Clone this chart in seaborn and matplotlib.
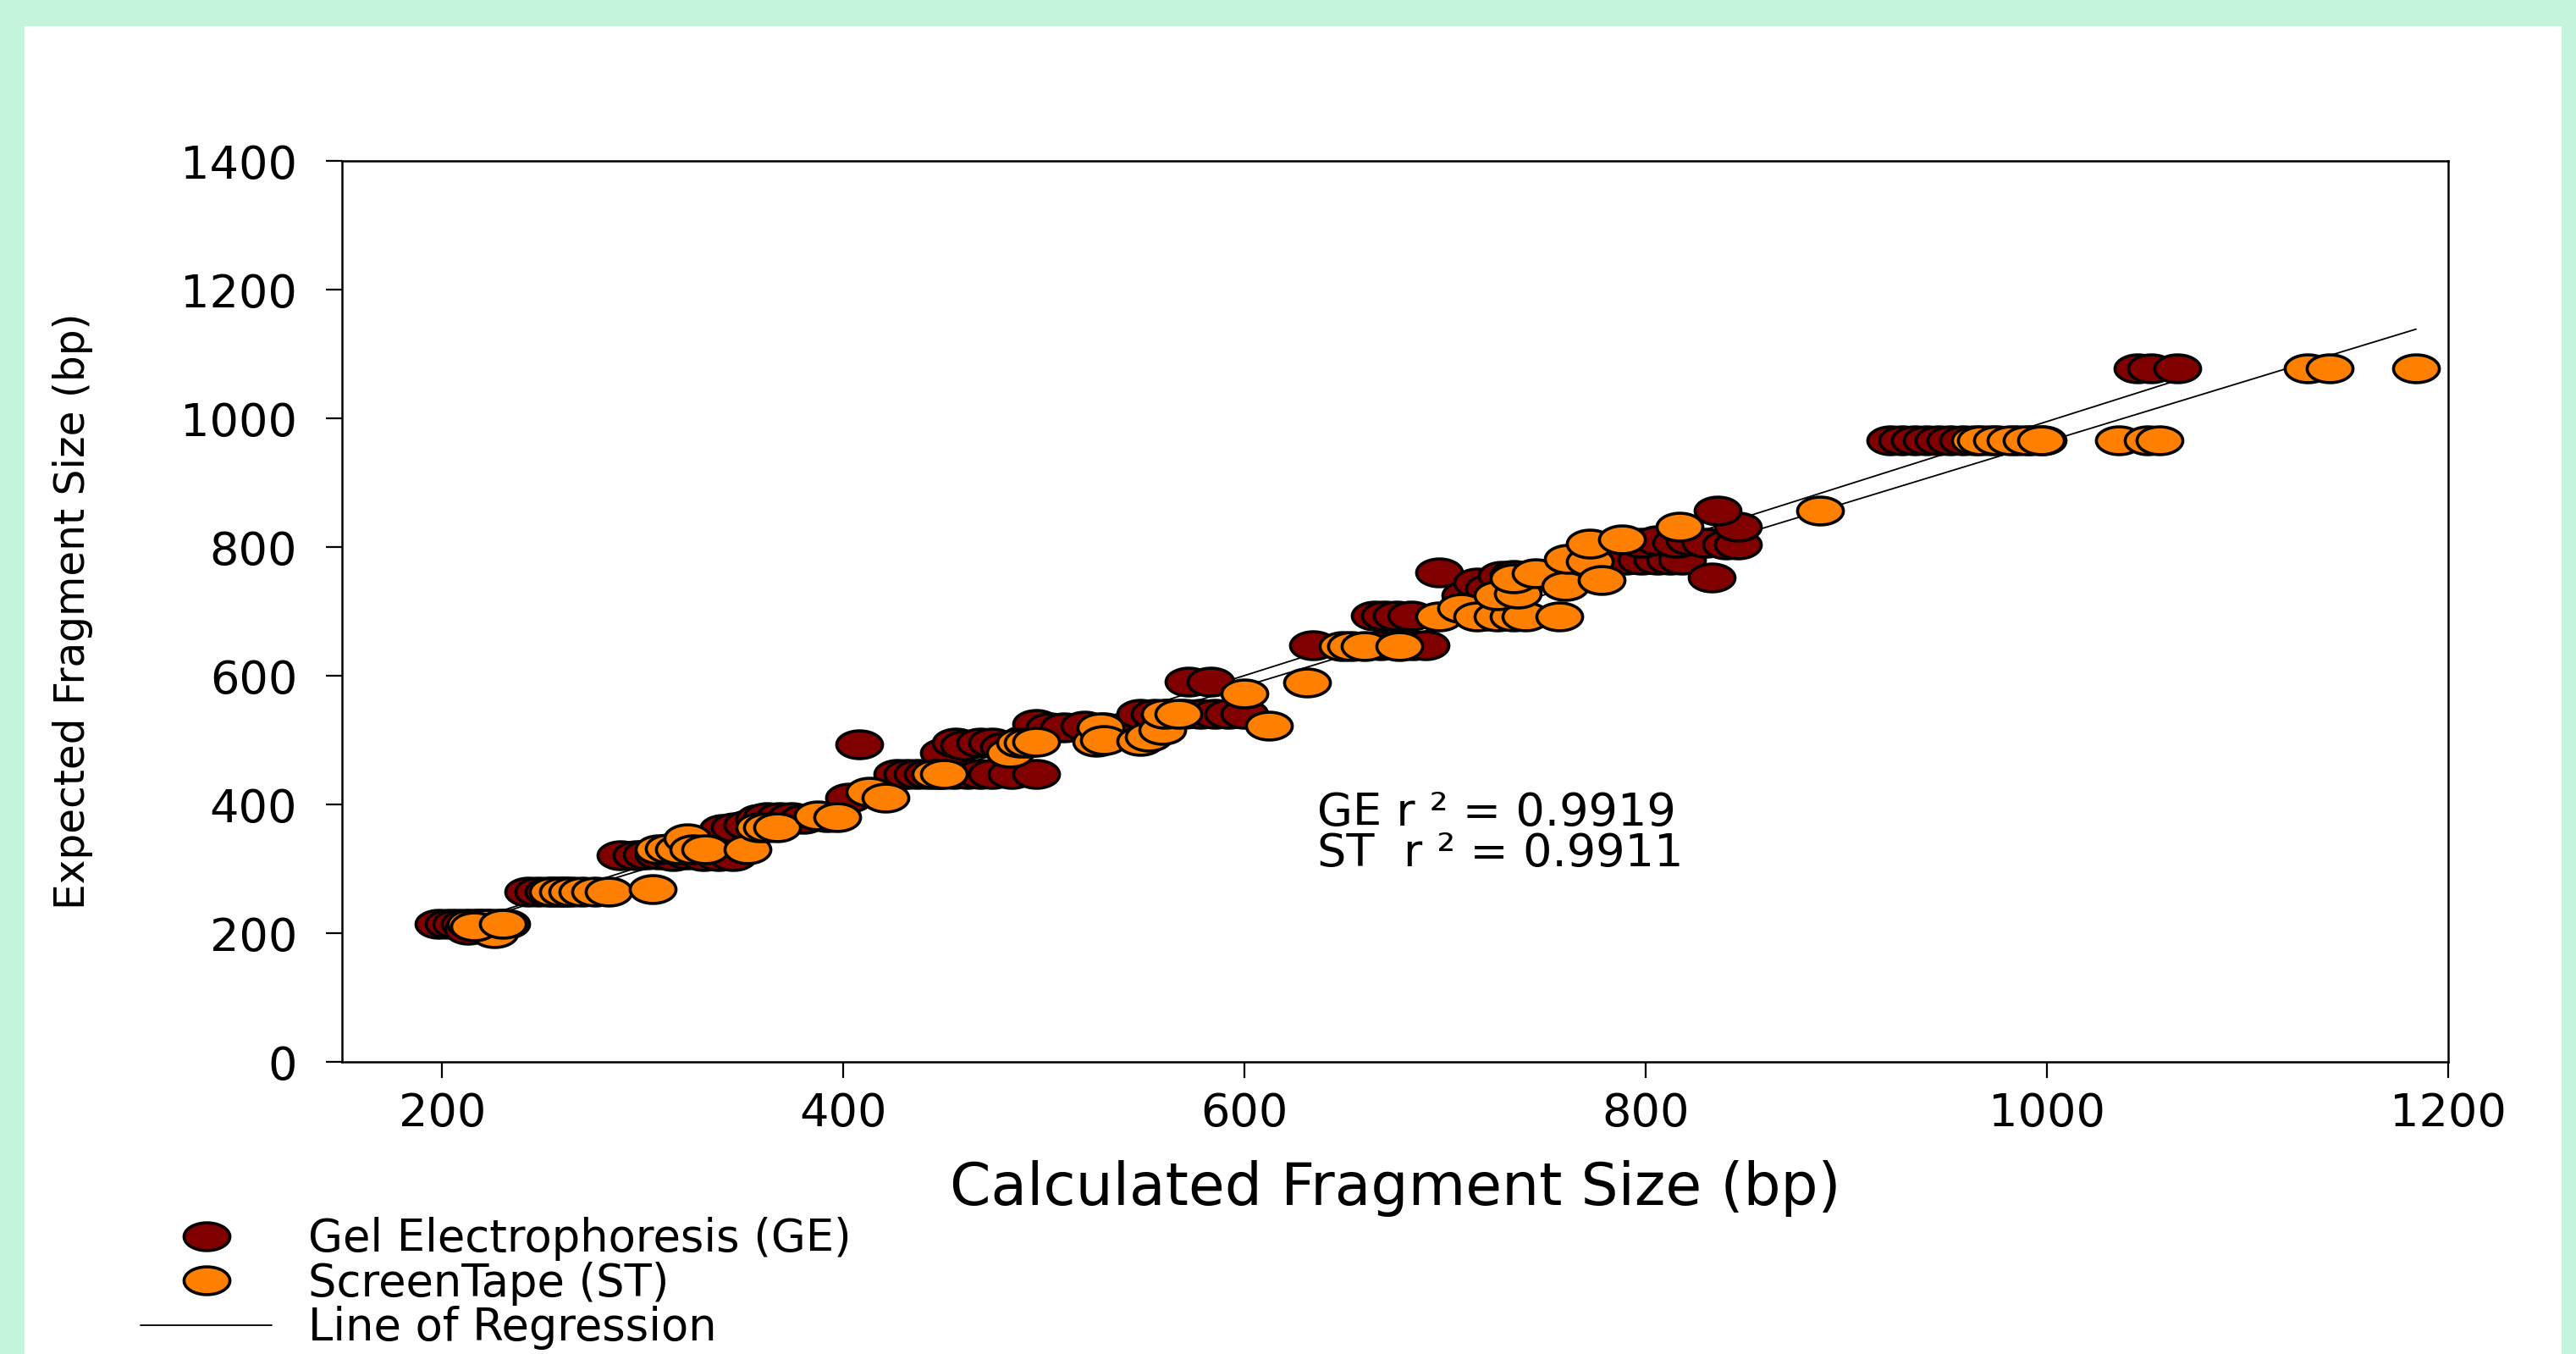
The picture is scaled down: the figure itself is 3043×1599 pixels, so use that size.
import numpy as np
import matplotlib
matplotlib.use("Agg")
import matplotlib.pyplot as plt
from matplotlib.path import Path
from matplotlib.patches import Rectangle
from matplotlib.lines import Line2D
import seaborn as sns

# Gel Electrophoresis (GE): calculated vs expected fragment size (bp)
ge_x = [198, 203, 207, 211, 215, 219, 224, 228, 232, 213,
        243, 248, 253, 258, 262,
        289, 297, 302, 308, 315, 322, 330, 338, 345,
        340, 346, 352, 358, 362, 368, 374, 380, 392,
        403, 408,
        427, 432, 437, 442, 448, 455, 462, 468, 474, 484, 496,
        450, 456, 460, 468, 474, 480, 490, 496, 503, 510, 520, 530, 540,
        548, 555, 562, 570, 578, 585, 592, 600,
        572, 583,
        634, 668, 676, 684, 690,
        665, 670, 676, 683,
        697,
        710, 716, 722, 728, 734, 740, 720, 730,
        790, 798, 806, 812, 818, 798, 806, 815, 822, 830, 840, 846, 846, 836, 833,
        922, 928, 934, 940, 946, 952, 958, 972, 985, 992, 998,
        1045, 1052, 1065]
ge_y = [215, 215, 215, 215, 210, 215, 215, 215, 215, 205,
        265, 265, 265, 265, 265,
        321, 321, 322, 322, 320, 322, 320, 320, 320,
        362, 365, 368, 378, 380, 380, 380, 378, 380,
        410, 493,
        448, 448, 448, 448, 448, 448, 448, 448, 448, 448, 448,
        480, 496, 492, 496, 496, 490, 500, 525, 520, 520, 522, 520, 520,
        541, 541, 541, 541, 541, 541, 541, 541,
        591, 591,
        648, 648, 648, 648, 648,
        693, 693, 693, 693,
        760,
        725, 745, 735, 755, 757, 750, 693, 693,
        780, 780, 780, 780, 780, 806, 810, 806, 810, 806, 804, 804, 832, 856, 752,
        966, 966, 966, 966, 966, 966, 966, 966, 966, 966, 966,
        1077, 1077, 1077]

# ScreenTape (ST)
st_x = [214, 218, 222, 226, 216, 230,
        255, 260, 265, 270, 276, 283, 305,
        308, 313, 318, 322, 325, 331, 352, 358, 362, 367,
        387, 397, 413, 421,
        446, 450,
        483, 488, 492, 496,
        526, 528, 530, 548, 552, 559, 560, 567,
        600, 612, 631, 649, 653, 660, 677,
        697, 708, 716, 726, 734, 740, 757,
        726, 736, 734, 745, 760, 761, 772, 778, 772, 788, 817, 887,
        964, 967, 975, 982, 990, 997, 1036, 1050, 1056,
        1130, 1141, 1184]
st_y = [215, 215, 215, 200, 210, 215,
        265, 265, 265, 265, 265, 265, 268,
        330, 332, 330, 347, 330, 330, 330, 365, 365, 365,
        383, 380, 420, 410,
        448, 448,
        480, 496, 496, 498,
        498, 520, 500, 499, 505, 516, 541, 541,
        573, 523, 589, 646, 646, 646, 646,
        692, 705, 692, 692, 692, 692, 692,
        725, 728, 751, 759, 740, 782, 778, 749, 805, 812, 832, 856,
        966, 966, 966, 966, 966, 966, 966, 966, 966,
        1077, 1077, 1077]

x_ticks = [200, 400, 600, 800, 1000, 1200]
y_ticks = [0, 200, 400, 600, 800, 1000, 1200, 1400]
r2_ge = 0.9919
r2_st = 0.9911
labels = ["Gel Electrophoresis (GE)", "ScreenTape (ST)", "Line of Regression"]

ge_color = "#800000"
st_color = "#ff8000"

sns.set_style("white")
plt.rcParams['font.family'] = ['DejaVu Sans']
plt.rcParams['text.color'] = 'black'
plt.rcParams['axes.labelcolor'] = 'black'

# the source picture is stretched sideways, so the dots are wide ellipses
t = np.linspace(0, 2 * np.pi, 61)
ellipse = Path(np.column_stack([1.65 * np.cos(t), np.sin(t)]), closed=True)

W, H = 3043, 1599
fig = plt.figure(figsize=(W / 100, H / 100), dpi=100, facecolor="#c5f4dc")
fig.add_artist(Rectangle((29 / W, 0), (3026 - 29) / W, 1 - 31 / H,
                         transform=fig.transFigure, facecolor="white",
                         edgecolor="none", zorder=-1))
ax = fig.add_axes([404 / W, 1 - 1254 / H, (2892 - 404) / W, (1254 - 190) / H])

# regression lines under the points
sns.regplot(x=ge_x, y=ge_y, ax=ax, scatter=False, ci=None, color="black",
            line_kws={"lw": 1.3, "zorder": 2})
sns.regplot(x=st_x, y=st_y, ax=ax, scatter=False, ci=None, color="black",
            line_kws={"lw": 1.3, "zorder": 2})

sns.scatterplot(x=ge_x, y=ge_y, ax=ax, marker=ellipse, s=39 ** 2,
                color=ge_color, edgecolor="black", linewidth=2.6,
                zorder=3, legend=False)
sns.scatterplot(x=st_x, y=st_y, ax=ax, marker=ellipse, s=39 ** 2,
                color=st_color, edgecolor="black", linewidth=2.6,
                zorder=4, legend=False)

ax.set_xlim(150, 1200)
ax.set_ylim(0, 1400)
ax.set_xticks(x_ticks)
ax.set_yticks(y_ticks)
for side in ["left", "right", "top", "bottom"]:
    ax.spines[side].set_visible(True)
    ax.spines[side].set_color("black")
    ax.spines[side].set_linewidth(1.8)
ax.tick_params(axis="both", direction="out", length=14, width=1.6,
               colors="black", labelsize=39)
ax.tick_params(axis="x", bottom=True, top=False, pad=11)
ax.tick_params(axis="y", left=True, right=False, pad=24)

ax.set_xlabel("Calculated Fragment Size (bp)", fontsize=50)
ax.set_ylabel("Expected Fragment Size (bp)", fontsize=35)
ax.xaxis.set_label_coords(0.5, -0.109)
ax.yaxis.set_label_coords(-0.118, 0.5)

ax.text(636, 387, f"GE r \u00b2 = {r2_ge:.4f}", fontsize=39, va="center", ha="left")
ax.text(636, 324, f"ST  r \u00b2 = {r2_st:.4f}", fontsize=39, va="center", ha="left")

handles = [
    Line2D([], [], ls="", marker=ellipse, ms=39, mfc=ge_color, mec="black", mew=2.6),
    Line2D([], [], ls="", marker=ellipse, ms=39, mfc=st_color, mec="black", mew=2.6),
    Line2D([], [], color="black", lw=1.3),
]
fig.legend(handles, labels, loc="upper left", bbox_to_anchor=(166 / W, 1 - 1437 / H),
           frameon=False, fontsize=38, handlelength=2.94, handletextpad=0.81,
           labelspacing=0.01, borderpad=0, borderaxespad=0)

fig.savefig("out.png", dpi=100, facecolor=fig.get_facecolor())
